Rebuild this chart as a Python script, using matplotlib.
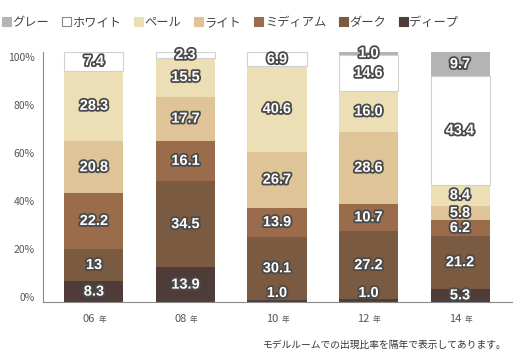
import numpy as np
import matplotlib
matplotlib.use("Agg")
from matplotlib import pyplot as plt
from matplotlib.patches import Patch
import matplotlib.patheffects as pe

plt.rcParams['font.family'] = ['Noto Sans CJK JP', 'DejaVu Sans']

# data
years = ['06', '08', '10', '12', '14']
# legend order (top of stack first)
categories = ['グレー', 'ホワイト', 'ペール', 'ライト', 'ミディアム', 'ダーク', 'ディープ']
gray = [0, 0, 0, 1.0, 9.7]
white = [7.4, 2.3, 6.9, 14.6, 43.4]
pale = [28.3, 15.5, 40.6, 16.0, 8.4]
light = [20.8, 17.7, 26.7, 28.6, 5.8]
medium = [22.2, 16.1, 13.9, 10.7, 6.2]
dark = [13, 34.5, 30.1, 27.2, 21.2]
deep = [8.3, 13.9, 1.0, 1.0, 5.3]
label_text = {
    'ディープ': ['8.3', '13.9', '1.0', '1.0', '5.3'],
    'ダーク': ['13', '34.5', '30.1', '27.2', '21.2'],
    'ミディアム': ['22.2', '16.1', '13.9', '10.7', '6.2'],
    'ライト': ['20.8', '17.7', '26.7', '28.6', '5.8'],
    'ペール': ['28.3', '15.5', '40.6', '16.0', '8.4'],
    'ホワイト': ['7.4', '2.3', '6.9', '14.6', '43.4'],
    'グレー': ['', '', '', '1.0', '9.7'],
}
yticks = ['0%', '20%', '40%', '60%', '80%', '100%']
note = 'モデルルームでの出現比率を隔年で表示してあります。'

colors = {
    'グレー': '#b4b4b4',
    'ホワイト': '#ffffff',
    'ペール': '#ecdfb6',
    'ライト': '#dec496',
    'ミディアム': '#9a6c4b',
    'ダーク': '#7a5a40',
    'ディープ': '#4f3c39',
}

series = {'グレー': gray, 'ホワイト': white, 'ペール': pale, 'ライト': light,
          'ミディアム': medium, 'ダーク': dark, 'ディープ': deep}

fig = plt.figure(figsize=(5.2, 3.6), dpi=100)
ax = fig.add_axes([43 / 520, 1 - 302 / 360, 469 / 520, 250 / 360])

x = np.arange(len(years))
totals = np.sum([series[c] for c in categories], axis=0)
bottom = np.zeros(len(years))
stroke = [pe.withStroke(linewidth=2.6, foreground='#4a4a4a')]

for cat in categories[::-1]:
    vals = np.array(series[cat], dtype=float)
    pct = vals / totals * 100
    edge = '#d0d0d0' if cat == 'ホワイト' else 'none'
    ax.bar(x, pct, 0.645, bottom=bottom, color=colors[cat], edgecolor=edge,
           linewidth=0.8, zorder=2)
    for i in range(len(years)):
        txt = label_text[cat][i]
        if not txt:
            continue
        yc = bottom[i] + pct[i] / 2
        if bottom[i] == 0 and pct[i] < 3:
            yc = 3.6
        ax.text(x[i], yc, txt, ha='center', va='center', color='white',
                fontsize=10.5, fontweight='bold', family=['Liberation Sans'],
                path_effects=stroke, zorder=5)
    bottom += pct

ax.set_xlim(-0.557, 4.568)
ax.set_ylim(0, 100)
ax.set_yticks([2 + 0.96 * v for v in range(0, 101, 20)])
ax.set_yticklabels(yticks, fontsize=7.5, color='#555555')
ax.tick_params(axis='y', length=0, pad=6)
ax.set_xticks([])
for s in ['top', 'right']:
    ax.spines[s].set_visible(False)
ax.spines['left'].set_color('#8a8a8a')
ax.spines['bottom'].set_color('#8a8a8a')

for i, yr in enumerate(years):
    ax.annotate(yr, (x[i], 0), xytext=(1, -12.5), textcoords='offset points',
                ha='right', va='center', fontsize=8, color='#555555',
                annotation_clip=False)
    ax.annotate('年', (x[i], 0), xytext=(3, -13), textcoords='offset points',
                ha='left', va='center', fontsize=5.5, color='#555555',
                annotation_clip=False)

handles = [Patch(facecolor=colors[c], edgecolor='#888888' if c == 'ホワイト' else colors[c],
                 linewidth=0.8) for c in categories]
fig.legend(handles, categories, loc='upper left', bbox_to_anchor=(0.004, 0.955),
           ncol=7, frameon=False, fontsize=8.8, handlelength=0.75, handleheight=0.75,
           handletextpad=0.1, columnspacing=1.05, borderpad=0, borderaxespad=0,
           labelcolor='#444444')

fig.text(507 / 520, 1 - 345 / 360, note, ha='right', va='center', fontsize=7,
         color='#333333')

fig.savefig('out.png', dpi=100)
